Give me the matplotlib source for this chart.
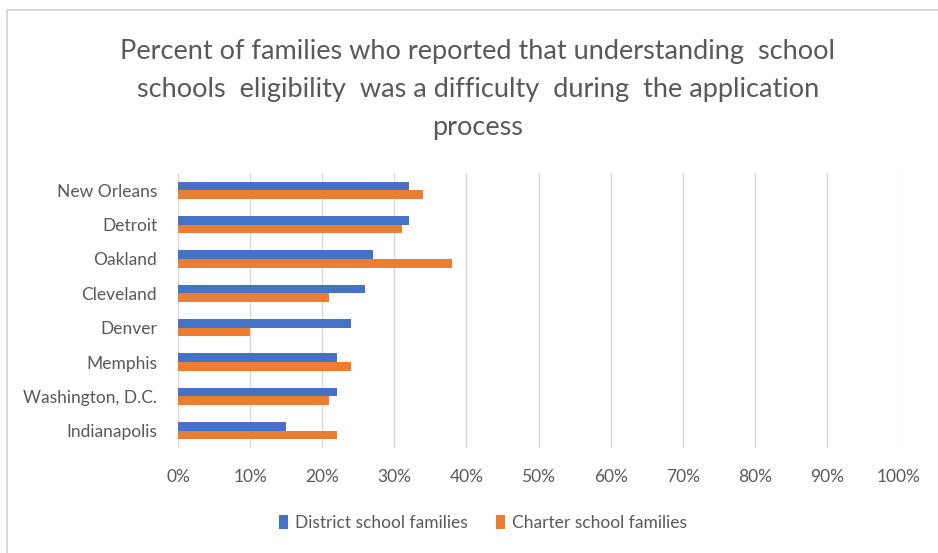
import numpy as np
import matplotlib.pyplot as plt
from matplotlib.lines import Line2D

cities = ["New Orleans", "Detroit", "Oakland", "Cleveland", "Denver",
          "Memphis", "Washington, D.C.", "Indianapolis"]
district = [32, 32, 27, 26, 24, 22, 22, 15]
charter = [34, 31, 38, 21, 10, 24, 21, 22]
xticks = [0, 10, 20, 30, 40, 50, 60, 70, 80, 90, 100]

BLUE = "#4472C4"
ORANGE = "#ED7D31"
GREY = "#595959"

plt.rcParams["font.family"] = ["Lato", "DejaVu Sans"]

fig = plt.figure(figsize=(9.38, 5.53), dpi=100)
ax = fig.add_axes([178 / 938, 1 - 448 / 553, 721 / 938, 275 / 553])

y = np.arange(len(cities))
h = 0.25
ax.barh(y - h / 2, district, height=h, color=BLUE, label="District school families", zorder=3)
ax.barh(y + h / 2, charter, height=h, color=ORANGE, label="Charter school families", zorder=3)

ax.set_xlim(0, 100)
ax.set_ylim(len(cities) - 0.5, -0.5)
ax.set_xticks(xticks)
ax.set_xticklabels([f"{t}%" for t in xticks])
ax.set_yticks(y)
ax.set_yticklabels(cities)
ax.tick_params(axis="both", length=0, labelsize=12.5, labelcolor=GREY)
ax.tick_params(axis="x", pad=15)
ax.tick_params(axis="y", pad=15)
ax.grid(axis="x", color="#D9D9D9", linewidth=1, zorder=0)
for s in ax.spines.values():
    s.set_visible(False)

fig.text(478 / 938, 1 - 89 / 553,
         "Percent of families who reported that understanding  school\n"
         "schools  eligibility  was a difficulty  during  the application\n"
         "process",
         ha="center", va="center", fontsize=19.5, color=GREY, linespacing=1.65)

fig.legend(loc="center", bbox_to_anchor=(483 / 938, 1 - 523 / 553), ncol=2,
           frameon=False, fontsize=12.5, labelcolor=GREY, handlelength=0.55,
           handleheight=0.9, handletextpad=0.4, columnspacing=1.6)

# chart frame: top and left edges only
fig.add_artist(Line2D([7 / 938, 1], [1 - 10 / 553, 1 - 10 / 553], color="#D9D9D9", lw=1.5))
fig.add_artist(Line2D([7 / 938, 7 / 938], [0, 1 - 10 / 553], color="#D9D9D9", lw=1.5))

fig.savefig("out.png", dpi=100)
